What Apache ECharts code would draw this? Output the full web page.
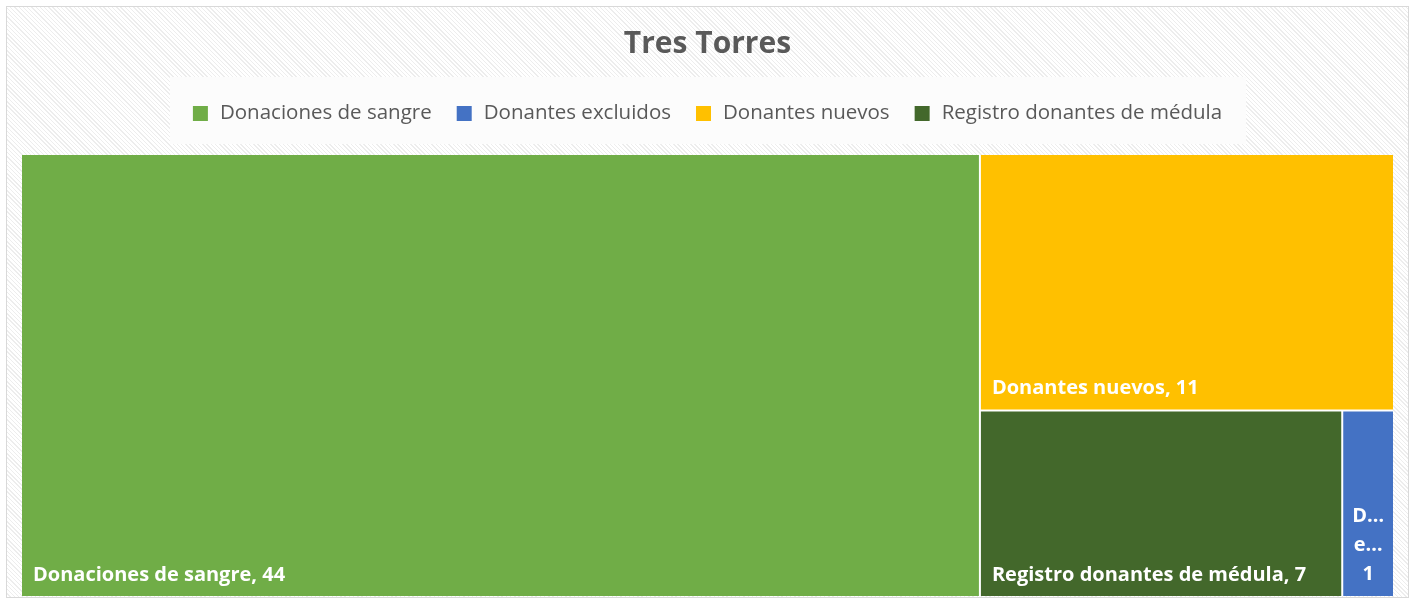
<!DOCTYPE html>
<html>
<head>
<meta charset="utf-8">
<script src="https://cdn.jsdelivr.net/npm/echarts@6/dist/echarts.min.js"></script>
<style>
  html, body { margin: 0; padding: 0; background: #ffffff; }
  #bg {
    position: absolute; left: 6px; top: 6px; width: 1403px; height: 592px;
    box-sizing: border-box; border: 1px solid #d9d9d9;
    background: repeating-linear-gradient(45deg, #ffffff 0px, #ffffff 2px, #ededed 2px, #ededed 3px);
  }
  #main { position: absolute; left: 0; top: 0; width: 1415px; height: 602px; }
</style>
</head>
<body>
<div id="bg"></div>
<div id="main"></div>
<script>
var titleText = 'Tres Torres';
var categories = ['Donaciones de sangre', 'Donantes excluidos', 'Donantes nuevos', 'Registro donantes de médula'];
var values = [44, 1, 11, 7];
var colors = ['#70ad47', '#4472c4', '#ffc000', '#43682b'];

function chart() {
  var myChart = echarts.init(document.getElementById('main'));
  var font = '"Open Sans", sans-serif';

  var treeData = [];
  var pieData = [];
  for (var i = 0; i < categories.length; i++) {
    var item = {
      name: categories[i],
      value: values[i],
      itemStyle: { color: colors[i] }
    };
    // the tiny box only has room for clipped text, like the original
    if (values[i] < 2) {
      item.label = {
        formatter: function (p) {
          return p.name.charAt(0) + '…\n' + p.name.split(' ')[1].charAt(0) + '…\n' + p.value;
        },
        align: 'center',
        position: 'insideBottom',
        distance: 2,
        lineHeight: 29
      };
    }
    treeData.push(item);
    pieData.push({ name: categories[i], value: values[i], itemStyle: { color: colors[i] } });
  }

  var lvl = { itemStyle: { borderWidth: 0, gapWidth: 2, borderColor: '#ffffff' } };

  var option = {
    animation: false,
    backgroundColor: 'transparent',
    title: {
      text: titleText,
      left: 'center',
      top: 24,
      textStyle: { fontFamily: font, fontSize: 30, fontWeight: 'bold', color: '#595959' }
    },
    legend: {
      data: categories,
      left: 'center',
      top: 77,
      padding: [26, 24, 20, 23],
      backgroundColor: '#fcfcfc',
      itemWidth: 15,
      itemHeight: 15,
      itemGap: 25,
      icon: 'rect',
      selectedMode: false,
      textStyle: { fontFamily: font, fontSize: 20.5, color: '#595959', padding: [0, 0, 0, 7] }
    },
    series: [
      {
        // only here to feed the legend
        type: 'pie',
        radius: [0, 0],
        silent: true,
        label: { show: false },
        labelLine: { show: false },
        data: pieData
      },
      {
        type: 'treemap',
        left: 22,
        top: 155,
        width: 1371,
        height: 441,
        roam: false,
        nodeClick: false,
        silent: true,
        squareRatio: 1,
        breadcrumb: { show: false },
        levels: [lvl, lvl],
        label: {
          show: true,
          position: 'insideBottomLeft',
          distance: 6,
          formatter: '{b}, {c}',
          color: '#ffffff',
          fontFamily: font,
          fontWeight: 'bold',
          fontSize: 20
        },
        upperLabel: { show: false },
        data: treeData
      }
    ]
  };
  myChart.setOption(option);
}
chart();
</script>
</body>
</html>
